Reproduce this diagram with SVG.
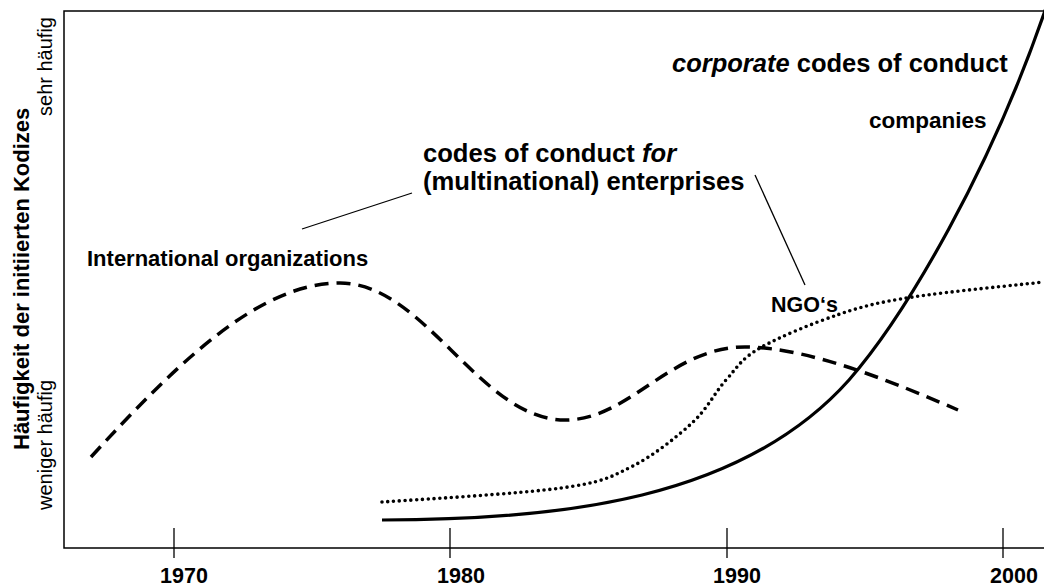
<svg xmlns="http://www.w3.org/2000/svg" width="1044" height="587" viewBox="0 0 1044 587">
<style>
  text { font-family: "Liberation Sans", Arial, sans-serif; fill: #000; }
  .b { font-weight: bold; }
  .i { font-style: italic; }
  .axis { stroke: #000; stroke-width: 1.5; fill: none; }
  .tick { stroke: #000; stroke-width: 1.3; }
  .leader { stroke: #000; stroke-width: 1.3; fill: none; }
  .dashed { stroke: #000; stroke-width: 3.5; fill: none; stroke-dasharray: 14 8; }
  .dotted { stroke: #000; stroke-width: 3.6; fill: none; stroke-dasharray: 0 5.8; stroke-linecap: round; }
  .solid { stroke: #000; stroke-width: 3.2; fill: none; }
  .tl { font-size: 21.5px; font-weight: bold; text-anchor: middle; }
</style>
<rect width="1044" height="587" fill="#fff"/>
<g id="frame">
  <path class="axis" d="M1044 11 H64 V548 H1044"/>
  <line class="tick" x1="174" y1="528" x2="174" y2="558"/>
  <line class="tick" x1="450" y1="528" x2="450" y2="558"/>
  <line class="tick" x1="727" y1="528" x2="727" y2="558"/>
  <line class="tick" x1="1003" y1="528" x2="1003" y2="558"/>
</g>
<g id="x-labels">
  <text class="tl" x="184" y="583">1970</text>
  <text class="tl" x="461" y="583">1980</text>
  <text class="tl" x="737" y="583">1990</text>
  <text class="tl" x="1014" y="583">2000</text>
</g>
<g id="y-labels">
  <text class="b" font-size="22" transform="translate(29,450) rotate(-90)">Häufigkeit der initiierten Kodizes</text>
  <text font-size="20" transform="translate(52,510) rotate(-90)">weniger häufig</text>
  <text font-size="20" text-anchor="end" transform="translate(52,17) rotate(-90)">sehr häufig</text>
</g>
<g id="curves">
  <path id="io-curve" class="dashed" d="M91 457 C180 360 260 283 340 283 C425 283 480 420 565 420 C630 420 670 347 745 347 C810 347 900 385 958 410"/>
  <path id="ngo-curve" class="dotted" d="M382 502 C412 500 519.5 493.8 561 488 C602.5 482.2 609.2 477.8 631 467 C652.8 456.2 676.2 437.5 692 423 C707.8 408.5 714.7 392.5 726 380 C737.3 367.5 741 359 760 348 C779 337 814.5 322.5 840 314 C865.5 305.5 879 302.3 913 297 C947 291.7 1022 284.5 1044 282"/>
  <path id="company-curve" class="solid" d="M382 520 C560 520 742 500 849 380 C903 318 993 170 1052 -10"/>
</g>
<g id="connectors">
  <line class="leader" x1="302" y1="229" x2="412" y2="193"/>
  <line class="leader" x1="755" y1="175" x2="805" y2="285"/>
</g>
<g id="label-io">
  <text class="b" font-size="22" x="87" y="266">International organizations</text>
</g>
<g id="label-for">
  <text class="b" font-size="25.6" x="423" y="162">codes of conduct <tspan class="i">for</tspan></text>
  <text class="b" font-size="25.6" x="423" y="190">(multinational) enterprises</text>
</g>
<g id="label-corporate">
  <text class="b" font-size="25.5" x="672" y="72"><tspan class="i">corporate</tspan> codes of conduct</text>
</g>
<g id="label-companies">
  <text class="b" font-size="22.5" x="869" y="128">companies</text>
</g>
<g id="label-ngo">
  <text class="b" font-size="21.5" x="771" y="312">NGO‘s</text>
</g>
</svg>
